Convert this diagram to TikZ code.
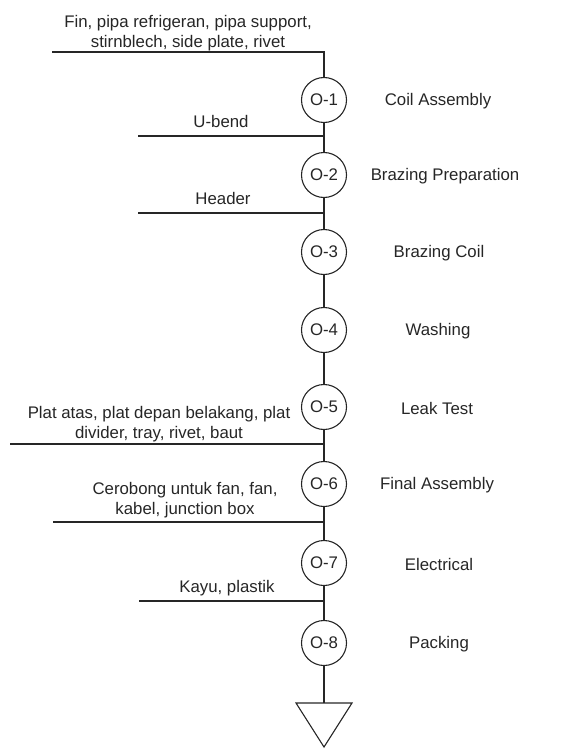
\documentclass[tikz,border=0pt]{standalone}
\usepackage{fontspec}
\setmainfont{Liberation Sans}
\begin{document}
\begin{tikzpicture}[x=1pt,y=-1pt,
  every node/.style={font=\fontsize{16.8}{20}\selectfont, text=black!85},
  opnode/.style={circle, draw=black!85, fill=white, line width=1.1pt, minimum size=45pt, inner sep=0pt},
  lbl/.style={align=center, inner sep=0pt},
  flow/.style={draw=black!85, line width=1.1pt}]
\useasboundingbox (0,0) rectangle (566,749);
% operations
\node[opnode] (o1) at (324,100) {O-1};
\node[opnode] (o2) at (324,175) {O-2};
\node[opnode] (o3) at (324,252) {O-3};
\node[opnode] (o4) at (324,330) {O-4};
\node[opnode] (o5) at (324,407) {O-5};
\node[opnode] (o6) at (324,484) {O-6};
\node[opnode] (o7) at (324,563) {O-7};
\node[opnode] (o8) at (324,643) {O-8};
% junctions and free ends
\coordinate (j0) at (324,52);  \coordinate (l0) at (52,52);
\coordinate (j1) at (324,136); \coordinate (l1) at (138,136);
\coordinate (j2) at (324,213); \coordinate (l2) at (138,213);
\coordinate (j5) at (324,444); \coordinate (l5) at (10,444);
\coordinate (j6) at (324,522); \coordinate (l6) at (53,522);
\coordinate (j7) at (324,601); \coordinate (l7) at (139,601);
\coordinate (tri) at (324,703);
\coordinate (trileft) at (296,703);
\coordinate (triright) at (352,703);
\coordinate (tribottom) at (324,747);
% main line
\path[flow] (l0) -- (j0) -- (o1);
\path[flow] (o1) -- (o2);
\path[flow] (o2) -- (o3);
\path[flow] (o3) -- (o4);
\path[flow] (o4) -- (o5);
\path[flow] (o5) -- (o6);
\path[flow] (o6) -- (o7);
\path[flow] (o7) -- (o8);
\path[flow] (o8) -- (tri);
\path[flow] (l1) -- (j1);
\path[flow] (l2) -- (j2);
\path[flow] (l5) -- (j5);
\path[flow] (l6) -- (j6);
\path[flow] (l7) -- (j7);
% storage triangle
\path[flow, line join=miter] (trileft) -- (triright) -- (tribottom) -- cycle;
% material labels
\node[lbl] (m0) at (188,33) {Fin, pipa refrigeran, pipa support,\\ stirnblech, side plate, rivet};
\node[lbl] (m1) at (221,121) {U-bend};
\node[lbl] (m2) at (223,198) {Header};
\node[lbl] (m5) at (159,424) {Plat atas, plat depan belakang, plat\\ divider, tray, rivet, baut};
\node[lbl] (m6) at (185,500) {Cerobong untuk fan, fan,\\ kabel, junction box};
\node[lbl] (m7) at (227,588) {Kayu, plastik};
% operation labels
\node[lbl] (n1) at (438,101) {Coil Assembly};
\node[lbl] (n2) at (445,176) {Brazing Preparation};
\node[lbl] (n3) at (439,253) {Brazing Coil};
\node[lbl] (n4) at (438,331) {Washing};
\node[lbl] (n5) at (437,408) {Leak Test};
\node[lbl] (n6) at (437,485) {Final Assembly};
\node[lbl] (n7) at (439,564) {Electrical};
\node[lbl] (n8) at (439,644) {Packing};
\end{tikzpicture}
\end{document}
